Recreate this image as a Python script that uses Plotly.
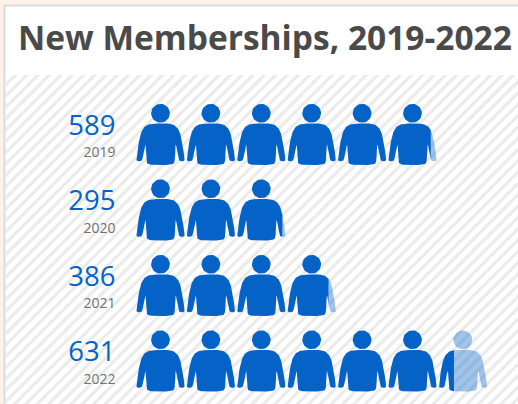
import numpy as np
import plotly.graph_objects as go

years = ["2019", "2020", "2021", "2022"]
members = [589, 295, 386, 631]
members_per_icon = 100
title_text = "New Memberships, 2019-2022"

W, H = 518, 404
BLUE = "#0563c8"
X0, XU = 137.0, 50.4      # px of first icon's left edge, px per icon slot
Y0, YU = 113.3, 75.5      # px of first head centre, px per row
ICON_W = 47.0


def chaikin(p, n=2):
    p = np.asarray(p, float)
    for _ in range(n):
        q = np.roll(p, -1, axis=0)
        p = np.column_stack([0.75 * p + 0.25 * q, 0.25 * p + 0.75 * q]).reshape(-1, 2)
    return p


half = [(0, 10), (-8, 10.2), (-12.5, 11.2), (-16, 13.4), (-18.6, 17.2), (-20.2, 22), (-21.6, 28), (-24, 44.5),
        (-24, 47.8), (-20, 48.2), (-17.8, 46), (-15.8, 32), (-14.7, 31), (-14.5, 47),
        (-13, 50.8), (-9, 51.6), (0, 51.7)]
body = np.array(half + [(-x, y) for x, y in reversed(half[1:-1])] + [])
body = chaikin(body, 2)
t = np.linspace(0, 2 * np.pi, 40, endpoint=False)
head = np.column_stack([9.4 * np.cos(t), 9.4 * np.sin(t)])
GLYPH = [body, head]


def clip(poly, limit, keep_left):
    s = 1 if keep_left else -1
    out = []
    for a, b in zip(poly, np.roll(poly, -1, axis=0)):
        ia, ib = s * (a[0] - limit) <= 0, s * (b[0] - limit) <= 0
        if ia:
            out.append(a)
        if ia != ib:
            r = (limit - a[0]) / (b[0] - a[0])
            out.append(a + r * (b - a))
    return np.array(out)


def add_poly(xs, ys, poly, slot, row):
    xs.extend(((poly[:, 0] + ICON_W / 2) / XU + slot).tolist() + [(poly[0, 0] + ICON_W / 2) / XU + slot, None])
    ys.extend((poly[:, 1] / YU + row).tolist() + [poly[0, 1] / YU + row, None])


dx, dy, lx, ly = [], [], [], []
for row, v in enumerate(members):
    units = v / members_per_icon
    n_full = int(units)
    frac = units - n_full
    for slot in range(n_full):
        for g in GLYPH:
            add_poly(dx, dy, g, slot, row)
    if frac > 0:
        limit = frac * ICON_W - ICON_W / 2
        for g in GLYPH:
            a = clip(g, limit, True)
            b = clip(g, limit, False)
            if len(a) > 2:
                add_poly(dx, dy, a, n_full, row)
            if len(b) > 2:
                add_poly(lx, ly, b, n_full, row)

x_range = [(0 - X0) / XU, (W - X0) / XU]
y_range = [(H - Y0) / YU, (0 - Y0) / YU]

fig = go.Figure()
# hatched panel
px = lambda v: (v - X0) / XU
py = lambda v: (v - Y0) / YU
fig.add_trace(go.Scatter(
    x=[px(6), px(W), px(W), px(6), px(6)], y=[py(75), py(75), py(H), py(H), py(75)],
    mode="lines", line=dict(width=0), fill="toself", fillcolor="white",
    fillpattern=dict(shape="/", size=8, solidity=0.38, fgcolor="#d6d6d6", bgcolor="white"),
    hoverinfo="skip", showlegend=False))
fig.add_trace(go.Scatter(x=lx, y=ly, mode="lines", line=dict(width=0), fill="toself",
                         fillcolor="rgba(5,99,200,0.38)", hoverinfo="skip", showlegend=False))
fig.add_trace(go.Scatter(x=dx, y=dy, mode="lines", line=dict(width=0), fill="toself",
                         fillcolor=BLUE, hoverinfo="skip", showlegend=False))

rows = list(range(len(years)))
fig.add_trace(go.Scatter(
    x=[px(115.5)] * 4, y=[r + 14.4 / YU for r in rows], mode="text", text=[str(v) for v in members],
    textposition="middle left", textfont=dict(family="Open Sans", size=27.5, color=BLUE, weight=500),
    hoverinfo="skip", showlegend=False))
fig.add_trace(go.Scatter(
    x=[px(115.5)] * 4, y=[r + 40.3 / YU for r in rows], mode="text", text=years,
    textposition="middle left", textfont=dict(family="Open Sans", size=14, color="#707070"),
    hoverinfo="skip", showlegend=False))

fig.update_layout(
    width=W, height=H, margin=dict(l=0, r=0, t=0, b=0),
    paper_bgcolor="#fdf1e8", plot_bgcolor="rgba(0,0,0,0)", showlegend=False,
    xaxis=dict(range=x_range, visible=False, fixedrange=True),
    yaxis=dict(range=y_range, visible=False, fixedrange=True),
    shapes=[dict(type="rect", xref="paper", yref="paper", x0=4.5 / W, x1=1.02, y0=-0.02, y1=1 - 5.5 / H,
                 line=dict(color="#dcdcdc", width=2), fillcolor="white", layer="below")],
    annotations=[dict(text=title_text, xref="paper", yref="paper", x=16 / W, y=1 - 37 / H, xanchor="left",
                      yanchor="middle", showarrow=False,
                      font=dict(family="Open Sans", size=33.5, color="#4a4a4a", weight=700))],
)
fig.write_html("out.html", config={"displayModeBar": False},
               post_script="document.body.style.margin='0';document.body.style.overflow='hidden';")
